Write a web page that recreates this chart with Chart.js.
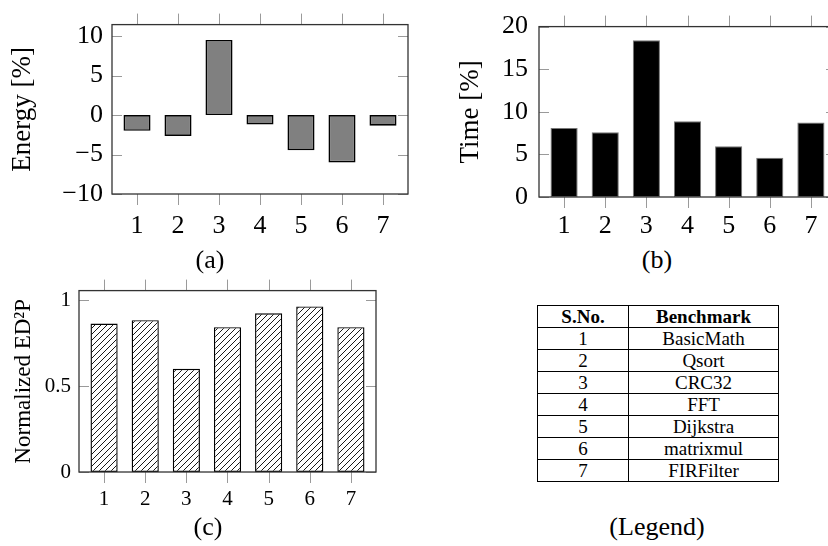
<!DOCTYPE html>
<html>
<head>
<meta charset="utf-8">
<script src="https://cdn.jsdelivr.net/npm/chart.js@4.4.0/dist/chart.umd.min.js"></script>
<style>
  body { margin: 0; background: #fff; }
  #page { position: relative; width: 828px; height: 546px; overflow: hidden; font-family: 'Liberation Serif', serif; color: #000; }
  .box { position: absolute; }
  .cap { position: absolute; font-size: 26px; transform: translate(-50%, -50%); white-space: nowrap; }
  table { border-collapse: collapse; font-size: 19px; text-align: center; }
  td, th { border: 1.5px solid #000; height: 21px; padding: 0; line-height: 19px; }
</style>
</head>
<body>
<div id="page">
  <div class="box" style="left:0;top:0"><canvas id="energyChart" width="420" height="240"></canvas></div>
  <div class="box" style="left:420px;top:0"><canvas id="timeChart" width="420" height="240"></canvas></div>
  <div class="box" style="left:0;top:270px"><canvas id="ed2pChart" width="420" height="276"></canvas></div>
  <div class="cap" style="left:210px;top:260px">(a)</div>
  <div class="cap" style="left:657px;top:260px">(b)</div>
  <div class="cap" style="left:208px;top:527px">(c)</div>
  <div class="cap" style="left:657px;top:527px">(Legend)</div>
  <table class="box" id="legendTable" style="left:537px;top:305px;width:242px">
    <thead><tr><th style="width:90px">S.No.</th><th>Benchmark</th></tr></thead>
    <tbody id="legendRows"></tbody>
  </table>
</div>
<script>
// benchmark numbers on the x axis
const benchmarks = [1, 2, 3, 4, 5, 6, 7];
const benchmarkNames = ['BasicMath', 'Qsort', 'CRC32', 'FFT', 'Dijkstra', 'matrixmul', 'FIRFilter'];

// values
const energy = [-2.0, -2.65, 9.5, -1.2, -4.45, -6.0, -1.35];
const time = [8.1, 7.6, 18.4, 8.9, 5.95, 4.6, 8.75];
const ed2p = [0.863, 0.883, 0.60, 0.842, 0.923, 0.963, 0.842];

// tick labels
const energyTicks = [-10, -5, 0, 5, 10];
const timeTicks = [0, 5, 10, 15, 20];
const ed2pTicks = [0, 0.5, 1];

Chart.defaults.font.family = "'Liberation Serif', serif";
Chart.defaults.color = '#000';

// Fill the legend table
const legendRows = document.getElementById('legendRows');
benchmarks.forEach((n, i) => {
    legendRows.innerHTML += `<tr><td>${n}</td><td>${benchmarkNames[i]}</td></tr>`;
});

// hatch pattern for the ED2P bars
function hatchPattern() {
    const c = document.createElement('canvas');
    c.width = 6; c.height = 6;
    const g = c.getContext('2d');
    g.fillStyle = '#fff';
    g.fillRect(0, 0, 6, 6);
    g.strokeStyle = '#000';
    g.lineWidth = 0.9;
    g.beginPath();
    g.moveTo(0, 6); g.lineTo(6, 0);
    g.moveTo(-1, 1); g.lineTo(1, -1);
    g.moveTo(5, 7); g.lineTo(7, 5);
    g.stroke();
    return g.createPattern(c, 'repeat');
}

// frame plus pgfplots-like ticks (x outward, y inward)
const frameTicks = {
    id: 'frameTicks',
    afterDatasetsDraw(chart) {
        const { ctx, chartArea: a, scales: { x, y } } = chart;
        ctx.save();
        ctx.strokeStyle = '#9a9a9a';
        ctx.lineWidth = 1;
        ctx.beginPath();
        x.ticks.forEach(t => {
            const px = Math.round(x.getPixelForValue(t.value)) + 0.5;
            ctx.moveTo(px, a.top - 11); ctx.lineTo(px, a.top);
            ctx.moveTo(px, a.bottom); ctx.lineTo(px, a.bottom + 11);
        });
        y.ticks.forEach(t => {
            const py = Math.round(y.getPixelForValue(t.value)) + 0.5;
            ctx.moveTo(a.left, py); ctx.lineTo(a.left + 10, py);
            ctx.moveTo(a.right - 10, py); ctx.lineTo(a.right, py);
        });
        ctx.stroke();
        ctx.strokeStyle = '#333';
        ctx.lineWidth = 1.3;
        ctx.strokeRect(a.left, a.top, a.right - a.left, a.bottom - a.top);
        ctx.restore();
    }
};

function fmt(v) {
    return String(v).replace('-', '\u2212');
}

function makeBarChart(id, values, yTicks, cfg) {
    const ctx = document.getElementById(id).getContext('2d');
    return new Chart(ctx, {
        type: 'bar',
        data: {
            datasets: [{
                data: benchmarks.map((b, i) => ({ x: b, y: values[i] })),
                backgroundColor: cfg.fill,
                borderColor: cfg.border,
                borderWidth: cfg.borderWidth,
                borderSkipped: false,
                barPercentage: 0.66,
                categoryPercentage: 1
            }]
        },
        options: {
            responsive: false,
            animation: false,
            layout: { padding: cfg.padding },
            plugins: { legend: { display: false }, tooltip: { enabled: false } },
            scales: {
                x: {
                    type: 'linear',
                    offset: false,
                    min: 0.39,
                    max: 7.61,
                    grid: { display: false, drawTicks: false },
                    border: { display: false },
                    afterBuildTicks: s => { s.ticks = benchmarks.map(v => ({ value: v })); },
                    afterFit: s => { s.height = cfg.xHeight; },
                    ticks: { font: { size: cfg.fontSize }, padding: cfg.xPad, maxRotation: 0 }
                },
                y: {
                    min: cfg.ymin,
                    max: cfg.ymax,
                    grid: { display: false, drawTicks: false },
                    border: { display: false },
                    afterBuildTicks: s => { s.ticks = yTicks.map(v => ({ value: v })); },
                    afterFit: s => { s.width = cfg.yWidth; },
                    ticks: { font: { size: cfg.fontSize }, padding: cfg.yPad, callback: v => fmt(v) },
                    title: {
                        display: true,
                        text: cfg.title,
                        font: { size: cfg.titleSize },
                        padding: { top: cfg.titlePad, bottom: 0 }
                    }
                }
            }
        },
        plugins: [frameTicks]
    });
}

makeBarChart('energyChart', energy, energyTicks, {
    fill: '#808080', border: '#000', borderWidth: 1.6,
    padding: { top: 12, right: 12, left: 0, bottom: 0 },
    xHeight: 46, yWidth: 112, ymin: -10, ymax: 11.45,
    fontSize: 26, titleSize: 27, xPad: 17, yPad: 9, title: 'Energy [%]', titlePad: 7
});

makeBarChart('timeChart', time, timeTicks, {
    fill: '#000', border: '#777', borderWidth: 1,
    padding: { top: 14, right: 4, left: 0, bottom: 0 },
    xHeight: 43, yWidth: 119, ymin: 0, ymax: 20,
    fontSize: 26, titleSize: 27, xPad: 14, yPad: 11, title: 'Time [%]', titlePad: 35
});

makeBarChart('ed2pChart', ed2p, ed2pTicks, {
    fill: hatchPattern(), border: '#000', borderWidth: 1.4,
    padding: { top: 19, right: 44, left: 0, bottom: 0 },
    xHeight: 74, yWidth: 79, ymin: 0, ymax: 1.055,
    fontSize: 21, titleSize: 23, xPad: 15, yPad: 8, title: 'Normalized ED\u00B2P', titlePad: 10
});
</script>
</body>
</html>
